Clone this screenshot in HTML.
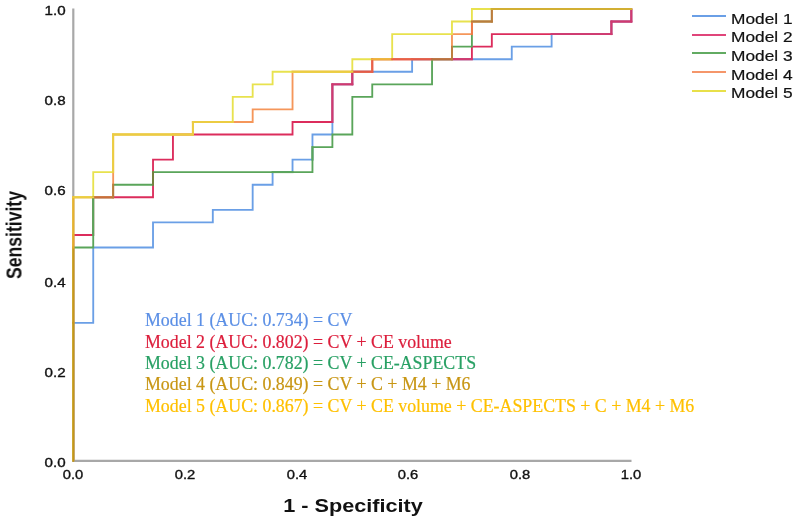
<!DOCTYPE html>
<html><head><meta charset="utf-8"><style>
html,body{margin:0;padding:0;background:#fff;}
.yl,.xl,.ytitle,.xtitle,.lg-t,.ann{will-change:transform;}
.yl,.xl{-webkit-text-stroke:0.35px #111;}
.lg-t{-webkit-text-stroke:0.2px #111;}
.ann{-webkit-text-stroke:0.2px currentColor;}
body{width:798px;height:522px;position:relative;overflow:hidden;font-family:"Liberation Sans",sans-serif;}
svg{position:absolute;left:0;top:0;}
.yl{position:absolute;left:15px;width:50.6px;height:14px;line-height:14px;text-align:right;font-size:12.6px;color:#111;transform:scaleX(1.2);transform-origin:100% 50%;}
.xl{position:absolute;top:467.6px;width:40px;height:14px;line-height:14px;text-align:center;font-size:12.6px;color:#111;transform:scaleX(1.17);}
.ytitle{position:absolute;left:-36px;top:225px;width:100px;height:20px;line-height:20px;text-align:center;font-weight:bold;font-size:17.6px;color:#111;transform:rotate(-90deg) scaleY(1.25);}
.xtitle{position:absolute;left:252.6px;top:495px;width:200px;height:22px;line-height:22px;text-align:center;font-weight:bold;font-size:18.5px;color:#111;transform:scaleX(1.17);}
.lg-line{position:absolute;left:692px;width:34px;height:2px;}
.lg-t{position:absolute;left:730.6px;height:18px;line-height:18px;font-size:15.2px;color:#111;white-space:nowrap;transform:scaleX(1.14);transform-origin:0 50%;}
.ann{position:absolute;left:145px;height:20px;line-height:20px;font-family:"Liberation Serif",serif;font-size:17.85px;white-space:nowrap;}
</style></head><body>
<svg width="798" height="522" viewBox="0 0 798 522">
<g stroke="#a8a8a8" stroke-width="2.2" fill="none">
<line x1="73.3" y1="8.6" x2="73.3" y2="461.5"/>
<line x1="72.2" y1="460.9" x2="631.5" y2="460.9"/>
</g>
<g stroke-width="1.85" stroke-linejoin="miter" stroke-linecap="butt" fill="none">
<polyline points="73.30,460.90 73.30,322.82 93.23,322.82 93.23,247.50 153.02,247.50 153.02,222.39 212.81,222.39 212.81,209.84 252.67,209.84 252.67,184.73 272.60,184.73 272.60,172.18 292.53,172.18 292.53,159.63 312.46,159.63 312.46,134.52 332.39,134.52 332.39,84.31 352.32,84.31 352.32,71.76 412.11,71.76 412.11,59.20 511.76,59.20 511.76,46.65 551.62,46.65 551.62,34.10 611.41,34.10 611.41,21.54 631.34,21.54 631.34,8.99" stroke="#6a9fe6"/>
<polyline points="73.30,460.90 73.30,234.95 93.23,234.95 93.23,197.29 153.02,197.29 153.02,159.63 172.95,159.63 172.95,134.52 292.53,134.52 292.53,121.97 332.39,121.97 332.39,84.31 352.32,84.31 352.32,71.76 372.25,71.76 372.25,59.20 471.90,59.20 471.90,46.65 491.83,46.65 491.83,34.10 611.41,34.10 611.41,21.54 631.34,21.54 631.34,8.99" stroke="#dc2c5c"/>
<polyline points="73.30,460.90 73.30,247.50 93.23,247.50 93.23,197.29 113.16,197.29 113.16,184.73 153.02,184.73 153.02,172.18 312.46,172.18 312.46,147.07 332.39,147.07 332.39,134.52 352.32,134.52 352.32,96.86 372.25,96.86 372.25,84.31 432.04,84.31 432.04,59.20 451.97,59.20 451.97,46.65 471.90,46.65 471.90,21.54 491.83,21.54 491.83,8.99 631.34,8.99" stroke="#5aa55a"/>
<polyline points="73.30,460.90 73.30,197.29 113.16,197.29 113.16,134.52 192.88,134.52 192.88,121.97 252.67,121.97 252.67,109.42 292.53,109.42 292.53,71.76 372.25,71.76 372.25,59.20 451.97,59.20 451.97,34.10 471.90,34.10 471.90,21.54 491.83,21.54 491.83,8.99 631.34,8.99" stroke="#f5965a"/>
<polyline points="73.30,460.90 73.30,197.29 93.23,197.29 93.23,172.18 113.16,172.18 113.16,134.52 192.88,134.52 192.88,121.97 232.74,121.97 232.74,96.86 252.67,96.86 252.67,84.31 272.60,84.31 272.60,71.76 352.32,71.76 352.32,59.20 392.18,59.20 392.18,34.10 451.97,34.10 451.97,21.54 471.90,21.54 471.90,8.99 631.34,8.99" stroke="#e8e24e"/>

<line x1="73.30" y1="461.90" x2="73.30" y2="321.82" stroke="#c3961c"/>
<line x1="271.60" y1="172.18" x2="293.53" y2="172.18" stroke="#5aa55a"/>
<line x1="312.46" y1="160.63" x2="312.46" y2="146.07" stroke="#5aa55a"/>
<line x1="332.39" y1="122.97" x2="332.39" y2="83.31" stroke="#d03a70"/>
<line x1="331.39" y1="84.31" x2="353.32" y2="84.31" stroke="#d03a70"/>
<line x1="352.32" y1="85.31" x2="352.32" y2="70.76" stroke="#d03a70"/>
<line x1="351.32" y1="71.76" x2="373.25" y2="71.76" stroke="#e25a4a"/>
<line x1="411.11" y1="59.20" x2="433.04" y2="59.20" stroke="#e25a4a"/>
<line x1="431.04" y1="59.20" x2="452.97" y2="59.20" stroke="#b87040"/>
<line x1="450.97" y1="59.20" x2="472.90" y2="59.20" stroke="#d03a70"/>
<line x1="550.62" y1="34.10" x2="612.41" y2="34.10" stroke="#d03a70"/>
<line x1="611.41" y1="35.10" x2="611.41" y2="20.54" stroke="#d03a70"/>
<line x1="610.41" y1="21.54" x2="632.34" y2="21.54" stroke="#d03a70"/>
<line x1="631.34" y1="22.54" x2="631.34" y2="7.99" stroke="#d03a70"/>
<line x1="73.30" y1="323.82" x2="73.30" y2="246.50" stroke="#c6961e"/>
<line x1="73.30" y1="248.50" x2="73.30" y2="233.95" stroke="#e4aa2c"/>
<line x1="93.23" y1="235.95" x2="93.23" y2="196.29" stroke="#5aa55a"/>
<line x1="92.23" y1="197.29" x2="114.16" y2="197.29" stroke="#c86e3c"/>
<line x1="153.02" y1="185.73" x2="153.02" y2="171.18" stroke="#787d3e"/>
<line x1="171.95" y1="134.52" x2="193.88" y2="134.52" stroke="#eccd42"/>
<line x1="372.25" y1="72.76" x2="372.25" y2="58.20" stroke="#e86048"/>
<line x1="371.25" y1="59.20" x2="393.18" y2="59.20" stroke="#f0af3c"/>
<line x1="391.18" y1="59.20" x2="413.11" y2="59.20" stroke="#e86048"/>
<line x1="113.16" y1="198.29" x2="113.16" y2="183.73" stroke="#b97d3e"/>
<line x1="451.97" y1="60.20" x2="451.97" y2="45.65" stroke="#b97d3e"/>
<line x1="471.90" y1="35.10" x2="471.90" y2="20.54" stroke="#f07846"/>
<line x1="470.90" y1="21.54" x2="492.83" y2="21.54" stroke="#b97d3e"/>
<line x1="491.83" y1="22.54" x2="491.83" y2="7.99" stroke="#b97d3e"/>
<line x1="490.83" y1="8.99" x2="632.34" y2="8.99" stroke="#d2af32"/>
<line x1="73.30" y1="235.95" x2="73.30" y2="196.29" stroke="#e6b030"/>
<line x1="72.30" y1="197.29" x2="94.23" y2="197.29" stroke="#eccc42"/>
<line x1="113.16" y1="173.18" x2="113.16" y2="133.52" stroke="#eccc42"/>
<line x1="112.16" y1="134.52" x2="173.95" y2="134.52" stroke="#eccc42"/>
<line x1="192.88" y1="135.52" x2="192.88" y2="120.97" stroke="#eccc42"/>
<line x1="191.88" y1="121.97" x2="233.74" y2="121.97" stroke="#eccc42"/>
<line x1="291.53" y1="71.76" x2="353.32" y2="71.76" stroke="#eccc42"/>
</g>
</svg>
<div class="yl" style="top:456.4px">0.0</div>
<div class="yl" style="top:365.6px">0.2</div>
<div class="yl" style="top:275.5px">0.4</div>
<div class="yl" style="top:183.6px">0.6</div>
<div class="yl" style="top:93.6px">0.8</div>
<div class="yl" style="top:3.6px">1.0</div>
<div class="xl" style="left:53.3px">0.0</div>
<div class="xl" style="left:164.9px">0.2</div>
<div class="xl" style="left:276.5px">0.4</div>
<div class="xl" style="left:388.1px">0.6</div>
<div class="xl" style="left:499.7px">0.8</div>
<div class="xl" style="left:611.3px">1.0</div>

<div class="ytitle">Sensitivity</div>
<div class="xtitle">1 - Specificity</div>
<div class="lg-line" style="top:15.1px;background:#6a9fe6"></div><div class="lg-t" style="top:9.5px">Model 1</div>
<div class="lg-line" style="top:33.8px;background:#e0457a"></div><div class="lg-t" style="top:28.1px">Model 2</div>
<div class="lg-line" style="top:52.4px;background:#62ab62"></div><div class="lg-t" style="top:46.8px">Model 3</div>
<div class="lg-line" style="top:71.0px;background:#f5966a"></div><div class="lg-t" style="top:65.5px">Model 4</div>
<div class="lg-line" style="top:89.7px;background:#e8e04a"></div><div class="lg-t" style="top:84.1px">Model 5</div>
<div class="ann" style="top:310.3px;color:#5b8fe5">Model 1 (AUC: 0.734) = CV</div>
<div class="ann" style="top:331.7px;color:#dc1e3c">Model 2 (AUC: 0.802) = CV + CE volume</div>
<div class="ann" style="top:353.0px;color:#28a064">Model 3 (AUC: 0.782) = CV + CE-ASPECTS</div>
<div class="ann" style="top:374.4px;color:#c89614">Model 4 (AUC: 0.849) = CV + C + M4 + M6</div>
<div class="ann" style="top:395.7px;color:#ffc000">Model 5 (AUC: 0.867) = CV + CE volume + CE-ASPECTS + C + M4 + M6</div>

</body></html>
